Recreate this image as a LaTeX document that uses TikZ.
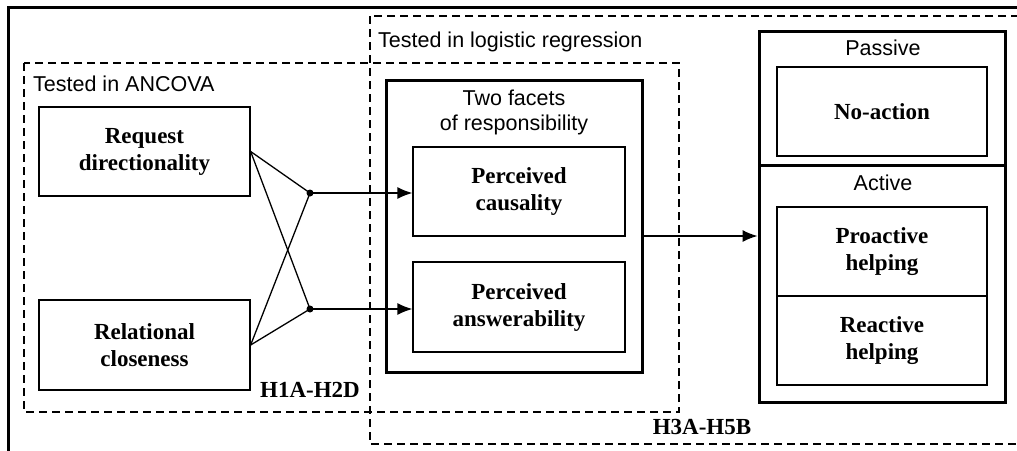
\documentclass[tikz,border=0pt]{standalone}
\usepackage{fontspec}
\setmainfont{Liberation Serif}
\newfontfamily\labelsans{Liberation Sans}
\usetikzlibrary{arrows.meta,calc}
\begin{document}
\begin{tikzpicture}[x=1pt,y=-1pt,
  thinbox/.style={draw,line width=1.3pt,inner sep=0pt,align=center,
    font=\fontsize{23}{27}\selectfont\bfseries},
  thickbox/.style={draw,line width=3pt,inner sep=0pt},
  dashbox/.style={draw,line width=1.4pt,dash pattern=on 8pt off 5pt},
  frameline/.style={line width=3pt},
  sanslabel/.style={font=\labelsans\fontsize{21.5}{25}\selectfont,inner sep=0pt,align=center},
  hyplabel/.style={font=\fontsize{23}{27}\selectfont\bfseries,inner sep=0pt},
  conn/.style={line width=1.3pt},
  arrow/.style={line width=1.3pt,-{Latex[length=15pt,width=12pt]}},
  dot/.style={circle,fill=black,inner sep=0pt,minimum size=7pt}]
\useasboundingbox (0,0) rectangle (1017,450);
\clip (0,0) rectangle (1017,450);
% outer frame (partly visible)
\draw[frameline] (8,460) -- (8,7) -- (1030,7);
% dashed regions
\draw[dashbox] (24,63) rectangle (679,412);
\draw[dashbox] (370,16) rectangle (1040,444);
\node[sanslabel,anchor=west] (lancova) at (33,84) {Tested in ANCOVA};
\node[sanslabel,anchor=west] (llogit) at (378,42) {Tested in logistic regression};
\node[hyplabel] (h1) at (310,390) {H1A-H2D};
\node[hyplabel] (h3) at (702,427) {H3A-H5B};
% left predictors
\node[thinbox,minimum width=211pt,minimum height=89pt] (req) at (144.5,151.5) {Request\\directionality};
\node[thinbox,minimum width=211pt,minimum height=90pt] (rel) at (144.5,345) {Relational\\closeness};
\node[dot] (j1) at (310,193) {};
\node[dot] (j2) at (310,309) {};
\draw[conn] (req.east) -- (j1.center);
\draw[conn] (req.east) -- (j2.center);
\draw[conn] (rel.east) -- (j1.center);
\draw[conn] (rel.east) -- (j2.center);
% two facets
\node[thickbox,minimum width=256pt,minimum height=292pt] (facets) at (514,226) {};
\node[sanslabel] (lfacets) at (514,112) {Two facets\\of responsibility};
\node[thinbox,minimum width=212pt,minimum height=89pt] (caus) at (519,191.5) {Perceived\\causality};
\node[thinbox,minimum width=212pt,minimum height=90pt] (answ) at (519,307) {Perceived\\answerability};
\draw[arrow] (j1.center) -- (j1.center -| caus.west);
\draw[arrow] (j2.center) -- (j2.center -| answ.west);
% outcome
\node[thickbox,minimum width=246pt,minimum height=371pt] (outc) at (882,216.5) {};
\coordinate (divl) at (759,165);
\coordinate (divr) at (1005,165);
\draw[line width=3pt] (divl) -- (divr);
\node[sanslabel] (lpass) at (883,48) {Passive};
\node[thinbox,minimum width=210pt,minimum height=89pt] (noact) at (882,111.5) {No-action};
\node[sanslabel] (lact) at (883,183) {Active};
\node[thinbox,minimum width=210pt,minimum height=89pt] (pro) at (882,251.5) {Proactive\\helping};
\node[thinbox,minimum width=210pt,minimum height=89pt] (rea) at (882,340.5) {Reactive\\helping};
\draw[arrow] ([yshift=-10pt]facets.east) -- ([yshift=-10pt]facets.east -| outc.west);
\end{tikzpicture}
\end{document}
